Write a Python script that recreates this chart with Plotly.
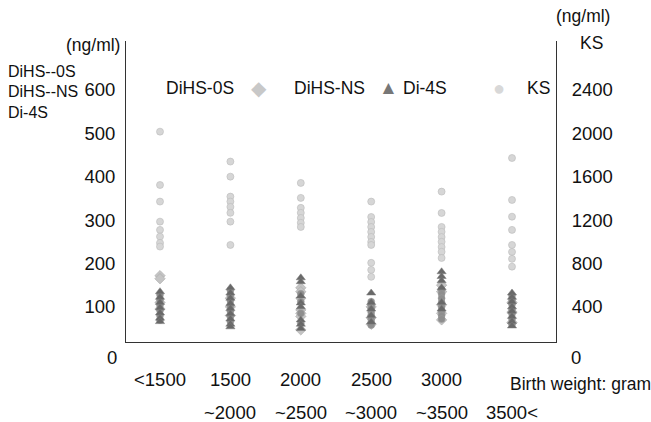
import plotly.graph_objects as go

# ---------------- data ----------------
categories = ["<1500", "1500~2000", "2000~2500", "2500~3000", "3000~3500", "3500<"]
tick_line1 = ["<1500", "1500", "2000", "2500", "3000", ""]
tick_line2 = ["", "~2000", "~2500", "~3000", "~3500", "3500<"]

left_ticks = [100, 200, 300, 400, 500, 600]
right_ticks = [400, 800, 1200, 1600, 2000, 2400]

# KS (right axis, ng/ml)
ks_values = [
    [2016, 1524, 1371, 1186, 1110, 1048, 990, 956],
    [1740, 1601, 1417, 1371, 1322, 1267, 1186, 971],
    [1543, 1405, 1313, 1267, 1220, 1175, 1137],
    [1371, 1229, 1183, 1137, 1091, 1045, 999, 971, 806, 741, 677],
    [1463, 1266, 1137, 1092, 1044, 1000, 952, 908, 851],
    [1773, 1386, 1232, 1110, 971, 907, 843, 771],
]
# DiHS-0S (left axis, ng/ml)
dihs0s_values = [
    [172, 165, 110, 95],
    [120, 100, 80],
    [144, 135, 120, 93, 85, 78, 47],
    [100, 75, 60],
    [150, 135, 105, 85, 70],
    [110, 88, 64],
]
# DiHS-NS (left axis, ng/ml)
dihsns_values = [
    [128, 116, 104, 92, 80, 70],
    [138, 126, 114, 102, 90, 78, 66],
    [130, 112, 85, 62],
    [112, 104, 96, 88, 80, 72, 64, 58],
    [140, 130, 120, 110, 100, 90, 80, 72],
    [126, 116, 106, 94, 84, 72, 60],
]
# Di-4S (left axis, ng/ml)
di4s_values = [
    [135, 122, 110, 98, 86, 74, 66],
    [144, 132, 120, 108, 96, 84, 72, 60, 54],
    [167, 158, 125, 109, 100, 70, 60, 50],
    [132, 110, 95, 80, 65],
    [181, 170, 160, 144, 110, 95],
    [132, 122, 112, 100, 90, 78, 66, 56],
]

# ---------------- layout helpers ----------------
W, H = 651, 422
L, R, T, B = 126, 556, 41, 342
FONT = "Liberation Sans, Arial, Helvetica, sans-serif"
TXT = 17.5
NUM = 18.5


def px(x):
    return (x - L) / (R - L)


def py(y):
    return (B - y) / (B - T)


def flatten(groups):
    xs, ys = [], []
    for i, vals in enumerate(groups):
        for v in vals:
            xs.append(i)
            ys.append(v)
    return xs, ys


fig = go.Figure()

x, y = flatten(ks_values)
fig.add_trace(go.Scatter(x=x, y=y, yaxis="y2", mode="markers", name="KS",
                         marker=dict(symbol="circle", size=7, color="#d6d6d6",
                                     line=dict(width=0.6, color="#bbbbbb"))))
x, y = flatten(dihs0s_values)
fig.add_trace(go.Scatter(x=x, y=y, mode="markers", name="DiHS-0S",
                         marker=dict(symbol="diamond", size=8, color="#c4c4c4",
                                     line=dict(width=0.6, color="#a8a8a8"))))
x, y = flatten(dihsns_values)
fig.add_trace(go.Scatter(x=x, y=y, mode="markers", name="DiHS-NS",
                         marker=dict(symbol="circle", size=7, color="#8e8e8e",
                                     line=dict(width=0.5, color="#9c9c9c"))))
x, y = flatten(di4s_values)
fig.add_trace(go.Scatter(x=x, y=y, mode="markers", name="Di-4S",
                         marker=dict(symbol="triangle-up", size=8, color="#686868",
                                     line=dict(width=0.5, color="#7a7a7a"))))

step = 70.4
x0 = 160
xr = [(L - x0) / step, (R - x0) / step]
yr = [19, 713]

ann = []


def add(text, x, y, xanchor="left", size=TXT, color="#111", xref="paper"):
    ann.append(dict(text=text, x=x, y=py(y), xref=xref, yref="paper",
                    xanchor=xanchor, yanchor="middle", showarrow=False,
                    borderpad=0,
                    font=dict(family=FONT, size=size, color=color)))


# left header
add("(ng/ml)", px(121), 45, "right")
add("DiHS--0S", px(7), 71, size=16)
add("DiHS--NS", px(7), 91, size=16)
add("Di-4S", px(7), 112, size=16)
# right header
add("(ng/ml)", px(555), 16)
add("KS", px(579), 43)
# in-plot legend
add("DiHS-0S", px(165), 88)
add("◆", px(259), 88, "center", size=20, color="#c8c8c8")
add("DiHS-NS", px(293), 88)
add("▲", px(388), 87, "center", size=19, color="#777777")
add("Di-4S", px(402), 88)
add("●", px(499), 88, "center", size=20, color="#d8d8d8")
add("KS", px(526), 88)
# zero labels
add("0", px(118), 357, "right", size=NUM)
add("0", px(570), 357, "left", size=NUM)
# x labels
for i, t in enumerate(tick_line1):
    if t:
        add(t, i, 379, "center", size=NUM, xref="x")
for i, t in enumerate(tick_line2):
    if t:
        add(t, i, 412, "center", size=NUM, xref="x")
add("Birth weight: gram", px(509), 384)

fig.update_layout(
    width=W, height=H,
    margin=dict(l=L, r=W - R, t=T, b=H - B, pad=0),
    paper_bgcolor="white", plot_bgcolor="white",
    showlegend=False,
    font=dict(family=FONT, size=NUM, color="#111"),
    xaxis=dict(range=xr, showgrid=False, zeroline=False, showticklabels=False,
               showline=True, linecolor="#333", linewidth=1, ticks=""),
    yaxis=dict(range=yr, tickvals=left_ticks, ticktext=[str(v) for v in left_ticks],
               showgrid=False, zeroline=False, showline=True, linecolor="#333",
               linewidth=1, ticks="outside", ticklen=6, tickcolor="rgba(0,0,0,0)",
               tickfont=dict(family=FONT, size=NUM, color="#111")),
    yaxis2=dict(range=[v * 4 for v in yr], tickvals=right_ticks,
                ticktext=[str(v) for v in right_ticks], overlaying="y", side="right",
                showgrid=False, zeroline=False, showline=True, linecolor="#333",
                linewidth=1, ticks="outside", ticklen=11, tickcolor="rgba(0,0,0,0)",
                tickfont=dict(family=FONT, size=NUM, color="#111")),
    annotations=ann,
)

fig.write_html("out.html")
